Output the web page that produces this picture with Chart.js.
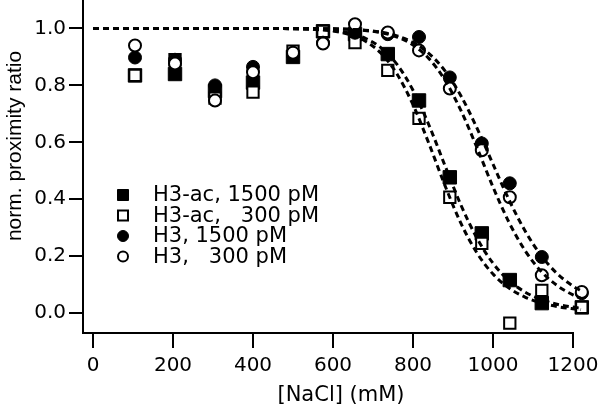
<!DOCTYPE html>
<html><head><meta charset="utf-8">
<script src="https://cdn.jsdelivr.net/npm/chart.js@4"></script>
<style>html,body{margin:0;padding:0;background:#fff;}canvas{display:block;}</style>
</head><body>
<canvas id="c" width="613" height="411"></canvas>
<script>
// ---- data ----
const pointX   = [105, 205, 305, 400, 500, 575, 655, 737, 815, 892, 972, 1042, 1122, 1222];
const h3ac1500 = [0.835, 0.84, 0.78, 0.81, 0.90, 0.99, 0.98, 0.91, 0.747, 0.477, 0.28, 0.116, 0.035, 0.02];
const h3ac300  = [0.835, 0.89, 0.755, 0.776, 0.92, 0.99, 0.95, 0.853, 0.684, 0.407, 0.245, -0.035, 0.08, 0.02];
const h3_1500  = [0.898, 0.89, 0.80, 0.865, 0.91, 0.95, 0.985, 0.98, 0.97, 0.828, 0.596, 0.456, 0.197, 0.07];
const h3_300   = [0.94, 0.877, 0.747, 0.846, 0.915, 0.947, 1.015, 0.986, 0.923, 0.789, 0.572, 0.407, 0.133, 0.074];

const fitX          = [0, 100, 200, 300, 400, 500, 560, 600, 640, 680, 720, 760, 800, 840, 880, 920, 960, 1000, 1040, 1080, 1120, 1160, 1200, 1220];
const fitH3ac1500   = [1, 1, 1, 1, 1, 0.999, 0.997, 0.993, 0.984, 0.966, 0.932, 0.874, 0.783, 0.660, 0.518, 0.379, 0.263, 0.175, 0.114, 0.074, 0.048, 0.031, 0.021, 0.017];
const fitH3ac300    = [1, 1, 1, 1, 1, 0.999, 0.996, 0.991, 0.979, 0.956, 0.913, 0.840, 0.732, 0.595, 0.448, 0.315, 0.211, 0.137, 0.088, 0.056, 0.036, 0.023, 0.015, 0.012];
const fitH3_1500    = [1, 1, 1, 1, 1, 1, 0.9995, 0.999, 0.997, 0.994, 0.987, 0.974, 0.951, 0.912, 0.851, 0.763, 0.650, 0.523, 0.398, 0.289, 0.203, 0.139, 0.095, 0.078];
const fitH3_300     = [1, 1, 1, 1, 1, 1, 0.9995, 0.999, 0.997, 0.993, 0.985, 0.970, 0.942, 0.894, 0.818, 0.711, 0.581, 0.443, 0.319, 0.220, 0.147, 0.097, 0.064, 0.052];

const xTicks = [0, 200, 400, 600, 800, 1000, 1200];
const yTicks = [0, 0.2, 0.4, 0.6, 0.8, 1.0];
const legendLabels = ['H3-ac, 1500 pM', 'H3-ac,   300 pM', 'H3, 1500 pM', 'H3,   300 pM'];
const xTitle = '[NaCl] (mM)';
const yTitle = 'norm. proximity ratio';

function pts(xs, ys) { return xs.map((x, i) => ({x: x, y: ys[i]})); }

const FONT = '"DejaVu Sans", sans-serif';
Chart.defaults.font.family = FONT;
Chart.defaults.color = '#000';

// markers may overflow the plot edge (as in the original), so do not reserve room for them
try {
  const LineCtrl = Chart.registry.getController('line');
  LineCtrl.prototype.getMaxOverflow = function () { return 0; };
} catch (e) {}

function markerSet(label, ys, style, radius, filled, order) {
  return {
    type: 'line', label: label, data: pts(pointX, ys), showLine: false,
    pointStyle: style, pointRadius: radius, pointHoverRadius: radius,
    pointBackgroundColor: filled ? '#000' : '#fff', pointBorderColor: '#000',
    pointBorderWidth: filled ? 1 : 2, borderColor: '#000', backgroundColor: filled ? '#000' : '#fff',
    order: order, clip: false
  };
}
function fitSet(ys) {
  return {
    type: 'line', label: '', data: pts(fitX, ys), borderColor: '#000', borderWidth: 3,
    borderDash: [6, 4], pointRadius: 0, fill: false,
    cubicInterpolationMode: 'monotone', order: 0, clip: false
  };
}

const datasets = [
  markerSet(legendLabels[0], h3ac1500, 'rect', 9.5, true, 4),
  markerSet(legendLabels[1], h3ac300, 'rect', 8, false, 3),
  markerSet(legendLabels[2], h3_1500, 'circle', 6.5, true, 2),
  markerSet(legendLabels[3], h3_300, 'circle', 6, false, 1),
  fitSet(fitH3ac1500), fitSet(fitH3ac300), fitSet(fitH3_1500), fitSet(fitH3_300)
];

const X_AXIS_END = 1200;

const decorPlugin = {
  id: 'decor',
  beforeDatasetsDraw(chart) {
    const ctx = chart.ctx, xs = chart.scales.x, area = chart.chartArea;
    ctx.save();
    ctx.strokeStyle = '#000'; ctx.lineWidth = 2;
    ctx.beginPath();
    ctx.moveTo(area.left - 1, area.bottom);
    ctx.lineTo(xs.getPixelForValue(X_AXIS_END) + 1, area.bottom);
    ctx.stroke();
    ctx.restore();
  },
  afterDraw(chart) {
    const ctx = chart.ctx, xs = chart.scales.x;
    ctx.save();
    ctx.fillStyle = '#000';
    // axis titles
    ctx.font = '21px ' + FONT;
    ctx.textAlign = 'center'; ctx.textBaseline = 'middle';
    ctx.fillText(xTitle, (xs.getPixelForValue(0) + xs.getPixelForValue(X_AXIS_END)) / 2 + 8, 396);
    ctx.save();
    ctx.translate(15, 146);
    ctx.rotate(-Math.PI / 2);
    ctx.font = '21px "Liberation Sans", Arial, sans-serif';
    ctx.fillText(yTitle, 0, 0);
    ctx.restore();
    // legend inside plot
    const rows = [195, 215.5, 236, 256.5];
    const mx = 123, tx = 153;
    ctx.font = '21px ' + FONT;
    ctx.textAlign = 'left'; ctx.textBaseline = 'middle';
    for (let i = 0; i < 4; i++) {
      const ds = chart.data.datasets[i];
      const y = rows[i];
      const filled = ds.pointBackgroundColor === '#000';
      ctx.fillStyle = ds.pointBackgroundColor; ctx.strokeStyle = ds.pointBorderColor;
      ctx.lineWidth = filled ? 1 : 2;
      ctx.beginPath();
      if (ds.pointStyle === 'rect') {
        const h = filled ? 5.5 : 5;
        ctx.rect(mx - h, y - h, 2 * h, 2 * h);
      } else {
        ctx.arc(mx, y, filled ? 5.5 : 5, 0, Math.PI * 2);
      }
      ctx.fill(); ctx.stroke();
      ctx.fillStyle = '#000';
      ctx.fillText(ds.label, tx, y + 1);
    }
    ctx.restore();
  }
};

new Chart(document.getElementById('c'), {
  type: 'line',
  data: { datasets: datasets },
  options: {
    responsive: false, animation: false, devicePixelRatio: 1,
    layout: { padding: { left: 0, right: 20, top: 0, bottom: 0 } },
    plugins: { legend: { display: false }, tooltip: { enabled: false } },
    scales: {
      x: {
        type: 'linear', min: -25, max: 1250,
        afterBuildTicks: s => { s.ticks = xTicks.map(v => ({value: v})); },
        afterFit: s => { s.height = 78; s.paddingLeft = 0; s.paddingRight = 0; },
        border: { display: false },
        grid: { drawOnChartArea: false, drawTicks: true, tickLength: 15, lineWidth: 2, color: '#000' },
        ticks: { font: { size: 20 }, color: '#000', padding: 6, maxRotation: 0, autoSkip: false, callback: v => String(v) }
      },
      y: {
        type: 'linear', min: -0.07, max: 1.1,
        afterBuildTicks: s => { s.ticks = yTicks.map(v => ({value: v})); },
        afterFit: s => { s.width = 83; s.paddingTop = 0; s.paddingBottom = 0; },
        border: { display: true, color: '#000', width: 2 },
        grid: { drawOnChartArea: false, drawTicks: true, tickLength: 14, lineWidth: 2, color: '#000' },
        ticks: { font: { size: 20 }, color: '#000', padding: 3, autoSkip: false, callback: v => Number(v).toFixed(1) }
      }
    }
  },
  plugins: [decorPlugin]
});
</script>
</body></html>
